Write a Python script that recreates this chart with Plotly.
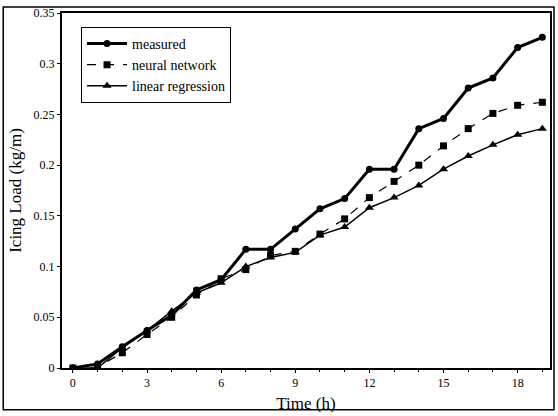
import plotly.graph_objects as go

time_h = list(range(20))
measured = [0, 0.004, 0.021, 0.037, 0.052, 0.077, 0.087, 0.117, 0.117, 0.137,
            0.157, 0.167, 0.196, 0.196, 0.236, 0.246, 0.276, 0.286, 0.316, 0.326]
neural = [0, 0.001, 0.015, 0.033, 0.050, 0.072, 0.088, 0.097, 0.111, 0.115,
          0.132, 0.147, 0.168, 0.184, 0.200, 0.219, 0.236, 0.251, 0.259, 0.262]
linear = [0, 0.0, 0.020, 0.037, 0.056, 0.074, 0.084, 0.100, 0.109, 0.114,
          0.131, 0.139, 0.158, 0.168, 0.180, 0.196, 0.209, 0.220, 0.230, 0.236]
x_ticks = [0, 3, 6, 9, 12, 15, 18]
y_ticks = [0, 0.05, 0.1, 0.15, 0.2, 0.25, 0.3, 0.35]
y_labels = ["0", "0.05", "0.1", "0.15", "0.2", "0.25", "0.3", "0.35"]

FONT = "Liberation Serif"

fig = go.Figure()
fig.add_trace(go.Scatter(x=time_h, y=measured, name="measured", mode="lines+markers",
                         line=dict(color="black", width=3),
                         marker=dict(symbol="circle", size=7, color="black")))
fig.add_trace(go.Scatter(x=time_h, y=neural, name="neural network", mode="lines+markers",
                         line=dict(color="black", width=1.2, dash="dash"),
                         marker=dict(symbol="square", size=7, color="black")))
fig.add_trace(go.Scatter(x=time_h, y=linear, name="linear regression", mode="lines+markers",
                         line=dict(color="black", width=1.5),
                         marker=dict(symbol="triangle-up", size=8, color="black")))

fig.update_layout(
    width=558, height=416,
    margin=dict(l=62, r=6, t=11, b=47),
    paper_bgcolor="white", plot_bgcolor="white",
    font=dict(family=FONT, color="black", size=11),
    showlegend=True,
    legend=dict(x=0.039, y=0.961, xanchor="left", yanchor="top",
                bgcolor="white", bordercolor="black", borderwidth=1,
                font=dict(family=FONT, size=14, color="black"),
                tracegroupgap=0, itemwidth=40),
    xaxis=dict(range=[-0.44, 19.31], tickmode="array", tickvals=x_ticks,
               ticks="outside", ticklen=3, tickwidth=1, tickcolor="black",
               minor=dict(dtick=1, tick0=0, ticks="outside", ticklen=2, tickcolor="black"),
               showgrid=False, zeroline=False,
               showline=True, linecolor="black", linewidth=2, mirror=True,
               tickfont=dict(family=FONT, size=12, color="black"),
               title=dict(text="Time (h)", font=dict(family=FONT, size=17, color="black"),
                          standoff=8)),
    yaxis=dict(range=[0, 0.35], tickmode="array", tickvals=y_ticks, ticktext=y_labels,
               ticks="outside", ticklen=3, tickwidth=1, tickcolor="black",
               showgrid=False, zeroline=False,
               showline=True, linecolor="black", linewidth=2, mirror=True,
               tickfont=dict(family=FONT, size=12, color="black"),
               title=dict(text="Icing Load (kg/m)", font=dict(family=FONT, size=17, color="black"),
                          standoff=8)),
)

# outer frame around the whole figure
fig.add_shape(type="rect", xref="paper", yref="paper",
              x0=(3 - 62) / 490, x1=(556 - 62) / 490,
              y0=(369 - 411) / 358, y1=(369 - 5) / 358,
              line=dict(color="black", width=1.5), layer="below")

fig.write_html("out.html", config={"displayModeBar": False})

# remove the browser's default page margin so the figure sits at the window's corner
with open("out.html", encoding="utf-8") as f:
    html = f.read()
html = html.replace("<head>", "<head><style>html,body{margin:0;padding:0;overflow:hidden;}</style>", 1)
with open("out.html", "w", encoding="utf-8") as f:
    f.write(html)
